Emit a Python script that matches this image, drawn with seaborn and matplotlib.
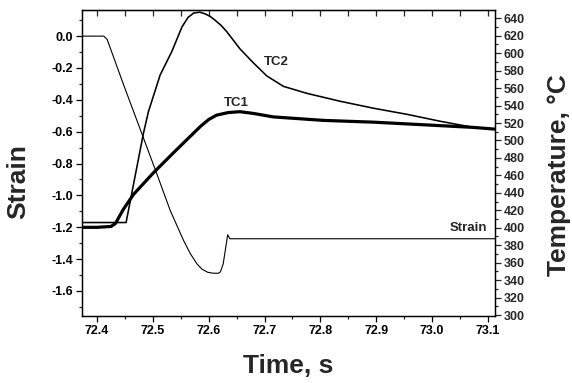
import matplotlib
matplotlib.use("Agg")
import matplotlib.pyplot as plt
import seaborn as sns
from matplotlib.ticker import MultipleLocator, FormatStrFormatter

# ---- data ----
strain_t = [72.373, 72.412, 72.418, 72.448, 72.480, 72.507, 72.531, 72.555, 72.567,
            72.579, 72.588, 72.598, 72.607, 72.617, 72.621, 72.626, 72.634, 72.638,
            72.700, 73.113]
strain_v = [0.0, 0.0, -0.02, -0.31, -0.61, -0.864, -1.094, -1.283, -1.365,
            -1.43, -1.463, -1.482, -1.488, -1.489, -1.48, -1.43, -1.247, -1.272,
            -1.272, -1.272]

tc2_t = [72.373, 72.452, 72.483, 72.492, 72.513, 72.534, 72.552, 72.563, 72.573,
         72.584, 72.594, 72.603, 72.611, 72.622, 72.632, 72.656, 72.680, 72.704,
         72.734, 72.776, 72.835, 72.895, 72.955, 73.015, 73.074, 73.113]
tc2_v = [406, 406, 508, 533, 575, 602, 630, 641, 646, 647, 645, 642, 638, 632,
         625, 605, 589, 574, 562, 554, 545, 537, 530, 522, 515, 513]

tc1_t = [72.373, 72.400, 72.425, 72.433, 72.447, 72.465, 72.501, 72.537, 72.561,
         72.585, 72.600, 72.614, 72.635, 72.656, 72.680, 72.716, 72.806, 72.895,
         72.985, 73.074, 73.113]
tc1_v = [400.5, 400.5, 401.5, 405, 421, 438, 463, 486, 501, 516, 524, 529,
         532, 533, 531, 527, 523, 521, 518, 515, 513]

x_label = "Time, s"
y_left_label = "Strain"
y_right_label = "Temperature, °C"

sns.set_style("ticks")
plt.rcParams['font.family'] = ['Liberation Sans', 'DejaVu Sans']
plt.rcParams['font.weight'] = 'bold'

fig = plt.figure(figsize=(5.72, 3.83), dpi=100)
ax = fig.add_axes([82/572, 1-316/383, 413/572, 306/383])
ax2 = ax.twinx()

sns.lineplot(x=strain_t, y=strain_v, ax=ax, color='black', lw=0.8,
             estimator=None, sort=False)
sns.lineplot(x=tc2_t, y=tc2_v, ax=ax2, color='black', lw=1.15,
             estimator=None, sort=False)
sns.lineplot(x=tc1_t, y=tc1_v, ax=ax2, color='black', lw=2.3,
             estimator=None, sort=False)

ax.set_xlim(72.373, 73.113)
ax.set_ylim(-1.757, 0.164)
ax2.set_ylim(298.9, 649.5)

ax.xaxis.set_major_locator(MultipleLocator(0.1))
ax.xaxis.set_minor_locator(MultipleLocator(0.05))
ax.xaxis.set_major_formatter(FormatStrFormatter('%.1f'))
ax.yaxis.set_major_locator(MultipleLocator(0.2))
ax.yaxis.set_minor_locator(MultipleLocator(0.1))
ax.yaxis.set_major_formatter(FormatStrFormatter('%.1f'))
ax2.yaxis.set_major_locator(MultipleLocator(20))
ax2.yaxis.set_minor_locator(MultipleLocator(10))

for a in (ax, ax2):
    for s in a.spines.values():
        s.set_linewidth(0.9)
        s.set_color('black')
        s.set_visible(True)

ax.tick_params(axis='both', which='major', direction='out', length=4.5, width=0.9,
               labelsize=9, colors='black', pad=2)
ax.tick_params(axis='both', which='minor', direction='out', length=2.5, width=0.9)
ax.tick_params(axis='y', right=False, which='both')
ax2.tick_params(axis='y', which='major', direction='out', length=4, width=0.9,
                labelsize=9, pad=2)
ax2.tick_params(axis='y', which='minor', direction='out', length=2.5, width=0.9)

top = ax.secondary_xaxis('top')
top.xaxis.set_major_locator(MultipleLocator(0.05))
top.tick_params(direction='in', length=4, width=0.9, labeltop=False)

for lab in ax.get_xticklabels() + ax.get_yticklabels() + ax2.get_yticklabels():
    lab.set_fontweight('bold')

ax.set_xlabel(x_label, fontsize=19, fontweight='bold')
ax.set_ylabel(y_left_label, fontsize=19, fontweight='bold')
ax2.set_ylabel(y_right_label, fontsize=19, fontweight='bold')
ax.xaxis.set_label_coords(0.499, -0.163)
ax.xaxis.label.set_va('center')
ax.yaxis.set_label_coords(-0.155, 0.4395)
ax.yaxis.label.set_va('center')
ax2.yaxis.set_label_coords(1.155, 0.459)
ax2.yaxis.label.set_va('center')

ax2.text(72.722, 590, "TC2", fontsize=9.5, fontweight='bold', ha='center', va='center')
ax2.text(72.650, 543, "TC1", fontsize=9.5, fontweight='bold', ha='center', va='center')
ax2.text(73.065, 400, "Strain", fontsize=9.5, fontweight='bold', ha='center', va='center')

fig.savefig("out.png", dpi=100)
